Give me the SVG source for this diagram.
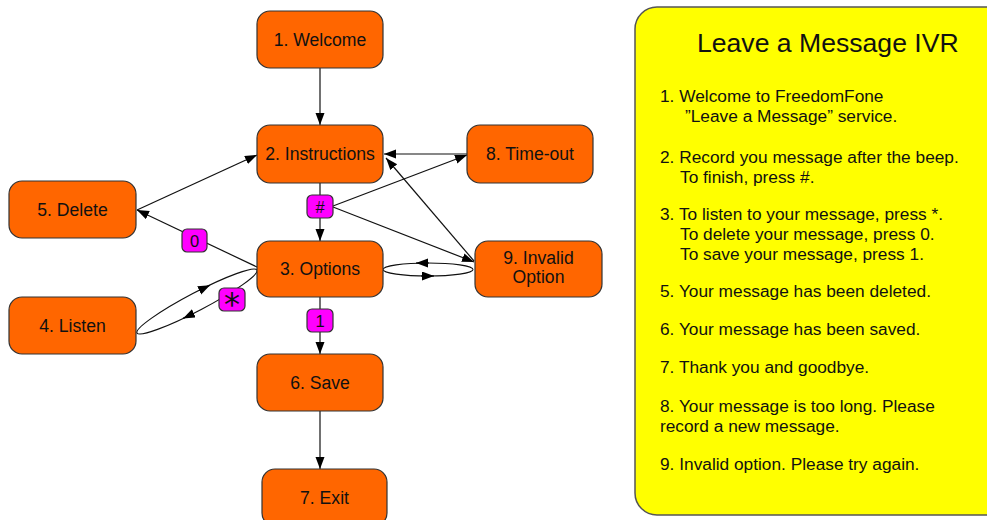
<svg xmlns="http://www.w3.org/2000/svg" width="987" height="520" viewBox="0 0 987 520">
<defs>
<marker id="arr" markerUnits="userSpaceOnUse" markerWidth="13" markerHeight="10" refX="12" refY="4.5" orient="auto" viewBox="0 0 13 10">
<path d="M0,0 L12,4.5 L0,9 z" fill="#000"/>
</marker>
<style>
.node rect{fill:#FF6600;stroke:#333;stroke-width:1.2}
.node text{font-family:"Liberation Sans",Arial,sans-serif;font-size:17.6px;fill:#111;text-anchor:middle}
.lbl rect{fill:#FF00FF;stroke:#333;stroke-width:1.2}
.lbl text{font-family:"Liberation Sans",Arial,sans-serif;font-size:16.5px;fill:#111;text-anchor:middle}
.edge{fill:none;stroke:#111;stroke-width:1.2}
.arrow{fill:none;stroke:#111;stroke-width:1.2;marker-end:url(#arr)}
.panel{fill:#FFFF00;stroke:#555;stroke-width:1.5}
.ptitle{font-family:"Liberation Sans",Arial,sans-serif;font-size:26.6px;fill:#111}
.ptext{font-family:"Liberation Sans",Arial,sans-serif;font-size:17.3px;fill:#111}
</style>
</defs>
<rect width="987" height="520" fill="#fff"/>

<g id="panel">
<rect class="panel" x="635" y="7" width="380" height="508" rx="22"/>
<text class="ptitle" x="697" y="52">Leave a Message IVR</text>
<text class="ptext" x="660" y="102">1. Welcome to FreedomFone</text>
<text class="ptext" x="685" y="121.5">”Leave a Message” service.</text>
<text class="ptext" x="660" y="163">2. Record you message after the beep.</text>
<text class="ptext" x="680" y="183">To finish, press #.</text>
<text class="ptext" x="660" y="220">3. To listen to your message, press *.</text>
<text class="ptext" x="680" y="240">To delete your message, press 0.</text>
<text class="ptext" x="680" y="260">To save your message, press 1.</text>
<text class="ptext" x="660" y="297">5. Your message has been deleted.</text>
<text class="ptext" x="660" y="335">6. Your message has been saved.</text>
<text class="ptext" x="660" y="373">7. Thank you and goodbye.</text>
<text class="ptext" x="660" y="412">8. Your message is too long. Please</text>
<text class="ptext" x="660" y="431.5">record a new message.</text>
<text class="ptext" x="660" y="470">9. Invalid option. Please try again.</text>
</g>

<g id="connectors">
<path class="arrow" d="M320 68 L320 125"/>
<path class="arrow" d="M320 183 L320 241"/>
<path class="arrow" d="M320 297 L320 354"/>
<path class="arrow" d="M320 411 L320 469"/>
<path class="arrow" d="M333 206 L467 155"/>
<path class="arrow" d="M333 207 L474 262"/>
<path class="arrow" d="M467 154 L384 154"/>
<path class="arrow" d="M474 261 L386 158"/>
<path class="arrow" d="M257 267 L137 210"/>
<path class="arrow" d="M137 210 L257 155"/>
<!-- 3 <-> 9 loop -->
<path class="edge" d="M473 269.5 C473 265.9 452.9 263 428 263 C403.1 263 383 265.9 383 269.5"/>
<path class="arrow" d="M429 263 L416 263"/>
<path class="edge" d="M383 269.5 C383 273.1 403.1 276 428 276 C452.9 276 473 273.1 473 269.5"/>
<path class="arrow" d="M421 276 L434 276"/>
<!-- 3 <-> 4 loop -->
<path class="edge" d="M137 333 C134.7 328.6 159.7 310.9 192.8 293.5 C225.9 276.1 254.7 265.6 257 270"/>
<path class="arrow" d="M199 290.5 L210 285.2"/>
<path class="edge" d="M257 270 C259.3 274.4 234.3 292.1 201.2 309.5 C168.1 326.9 139.3 337.4 137 333"/>
<path class="arrow" d="M194 313.2 L183 318.4"/>
</g>

<g id="lbl-hash" class="lbl"><rect x="307" y="195" width="26" height="23" rx="5"/><text x="320" y="212.5">#</text></g>
<g id="lbl-0" class="lbl"><rect x="182" y="229" width="25" height="23" rx="5"/><text x="194.5" y="246.5">0</text></g>
<g id="lbl-star" class="lbl"><rect x="219" y="288" width="26" height="23" rx="5"/><text x="232" y="315" style="font-family:'DejaVu Sans',sans-serif;font-size:32px">*</text></g>
<g id="lbl-1" class="lbl"><rect x="307" y="309" width="26" height="23" rx="5"/><text x="320" y="326.5">1</text></g>

<g id="n1" class="node"><rect x="257" y="11" width="126" height="57" rx="13"/><text x="320" y="45.5">1. Welcome</text></g>
<g id="n2" class="node"><rect x="257" y="125" width="126" height="58" rx="13"/><text x="320" y="160">2. Instructions</text></g>
<g id="n3" class="node"><rect x="257" y="241" width="126" height="56" rx="13"/><text x="320" y="275">3. Options</text></g>
<g id="n4" class="node"><rect x="9" y="297" width="127" height="57" rx="13"/><text x="72.5" y="331.5">4. Listen</text></g>
<g id="n5" class="node"><rect x="9" y="181" width="127" height="57" rx="13"/><text x="72.5" y="215.5">5. Delete</text></g>
<g id="n6" class="node"><rect x="257" y="354" width="126" height="57" rx="13"/><text x="320" y="388.5">6. Save</text></g>
<g id="n7" class="node"><rect x="262" y="469" width="125" height="57" rx="13"/><text x="324.5" y="503.5">7. Exit</text></g>
<g id="n8" class="node"><rect x="467" y="125" width="126" height="58" rx="13"/><text x="530" y="160">8. Time-out</text></g>
<g id="n9" class="node"><rect x="475" y="241" width="127" height="56" rx="13"/><text x="538.5" y="264">9. Invalid</text><text x="538.5" y="283">Option</text></g>
</svg>
